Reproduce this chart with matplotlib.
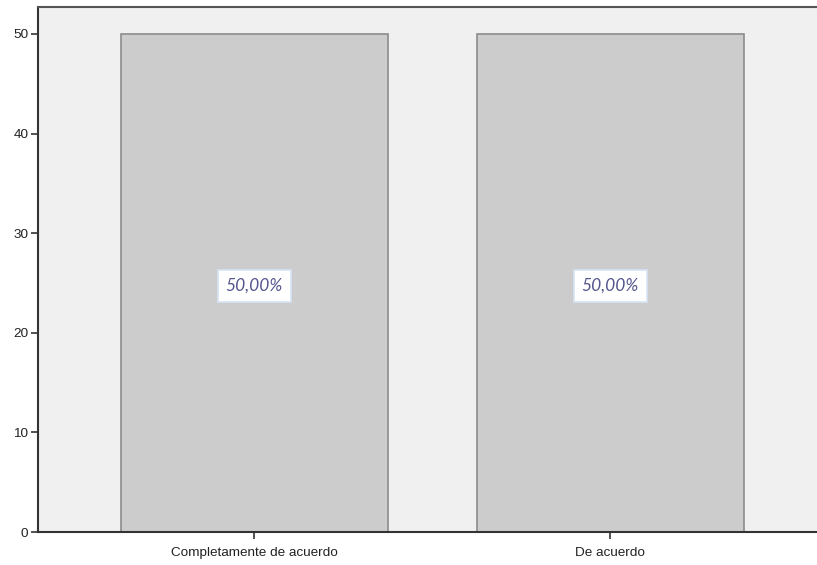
import matplotlib.pyplot as plt

categories = ['Completamente de acuerdo', 'De acuerdo']
counts = [50, 50]
percent_labels = ['50,00%', '50,00%']

fig = plt.figure(figsize=(8.17, 5.65), dpi=100)
fig.patch.set_facecolor('white')
ax = fig.add_axes([0.0465, 0.0584, 0.9535, 0.9292])
ax.set_facecolor('#f0f0f0')

x = range(len(categories))
ax.bar(x, counts, width=0.75, color='#cccccc', edgecolor='#8c8c8c', linewidth=1.2, zorder=2)

# percent labels in the middle of each bar
for i, v in enumerate(counts):
    ax.text(i, v / 2 - 0.3, percent_labels[i], ha='center', va='center', fontsize=12.5,
            style='italic', color='#55558f', family=['Lato', 'DejaVu Sans'],
            bbox=dict(boxstyle='square,pad=0.45', facecolor='white', edgecolor='#d6e4f5', linewidth=1.2),
            zorder=3)

ax.set_xlim(-0.607, 1.581)
ax.set_ylim(0, 52.7)
ax.set_yticks([0, 10, 20, 30, 40, 50])
ax.set_xticks(list(x))
ax.set_xticklabels(categories)

for lbl in ax.get_xticklabels() + ax.get_yticklabels():
    lbl.set_family(['Liberation Sans Narrow', 'Liberation Sans', 'DejaVu Sans'])
    lbl.set_fontsize(9.7)
    lbl.set_color('#222222')

ax.tick_params(axis='both', direction='out', length=5, width=1.2, color='#333333')
ax.tick_params(axis='x', pad=6)
ax.tick_params(axis='y', pad=2)
ax.spines['left'].set_color('#333333')
ax.spines['left'].set_linewidth(1.5)
ax.spines['bottom'].set_color('#333333')
ax.spines['bottom'].set_linewidth(1.5)
ax.spines['top'].set_color('#555555')
ax.spines['top'].set_linewidth(1.5)
ax.spines['right'].set_visible(False)

fig.savefig('out.png', dpi=100)
